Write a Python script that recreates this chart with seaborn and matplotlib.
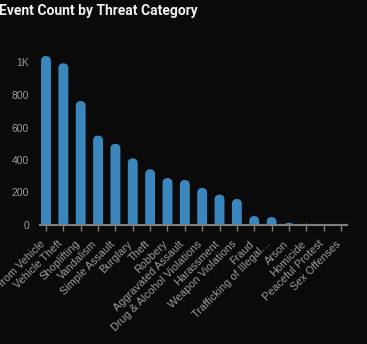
import matplotlib
matplotlib.use("Agg")
import matplotlib.pyplot as plt
import seaborn as sns
import pandas as pd
from matplotlib.patches import FancyBboxPatch
from matplotlib.ticker import FuncFormatter

categories = [
    "Theft from Vehicle", "Vehicle Theft", "Shoplifting", "Vandalism",
    "Simple Assault", "Burglary", "Theft", "Robbery", "Aggravated Assault",
    "Drug & Alcohol Violations", "Harassment", "Weapon Violations", "Fraud",
    "Trafficking of Illegal…", "Arson", "Homicide", "Peaceful Protest",
    "Sex Offenses",
]
counts = [1040, 995, 763, 550, 500, 410, 343, 289, 277, 228, 187, 160,
          55, 49, 14, 8, 6, 2]
yticks = [0, 200, 400, 600, 800, 1000]

BG = "#0a0a0a"
BAR = "#3a86bd"
GREY = "#9c9c9c"
AXIS = "#808080"

sns.set_theme(style="dark")
plt.rcParams["font.family"] = ["Liberation Sans", "DejaVu Sans"]

df = pd.DataFrame({"category": categories, "count": counts})

fig = plt.figure(figsize=(3.67, 3.44), dpi=100, facecolor=BG)
ax = fig.add_axes([40 / 367, 119 / 344, 307 / 367, 178.75 / 344])
ax.set_facecolor(BG)

sns.barplot(data=df, x="category", y="count", color=BAR, width=0.57,
            saturation=1, ax=ax)

ax.set_ylim(0, 1100)
ax.set_xlim(-0.346, 17.346)

# rounded-top bars
fig.canvas.draw()
px_per_x = ax.bbox.width / (ax.get_xlim()[1] - ax.get_xlim()[0])
px_per_y = ax.bbox.height / (ax.get_ylim()[1] - ax.get_ylim()[0])
aspect = px_per_x / px_per_y
for p in list(ax.patches):
    x0, w, h = p.get_x(), p.get_width(), p.get_height()
    r = w / 2
    ry = r * aspect
    bottom = -3 * ry
    fb = FancyBboxPatch((x0, bottom), w, h - bottom,
                        boxstyle=f"round,pad=0,rounding_size={r}",
                        mutation_aspect=aspect, facecolor=BAR,
                        edgecolor="none", linewidth=0, clip_on=True)
    p.remove()
    ax.add_patch(fb)
    fb.set_clip_path(ax.patch)

ax.set_yticks(yticks)
ax.yaxis.set_major_formatter(FuncFormatter(
    lambda v, _: "1K" if v >= 1000 else f"{int(v)}"))
ax.set_xlabel("")
ax.set_ylabel("")
ax.grid(False)
for s in ["top", "right", "left"]:
    ax.spines[s].set_visible(False)
ax.spines["bottom"].set_color(AXIS)
ax.spines["bottom"].set_linewidth(1.5)
ax.spines["bottom"].set_zorder(5)

ax.tick_params(axis="y", length=0, pad=8, labelsize=7.5, labelcolor=GREY)
ax.tick_params(axis="x", length=4.5, width=1, color=AXIS, pad=9.5,
               labelsize=7.8, labelcolor=GREY, bottom=True)
plt.setp(ax.get_xticklabels(), rotation=45, ha="right", va="baseline",
         rotation_mode="anchor")

fig.text(-0.003, 0.968, "Event Count by Threat Category", color="#f0f0f0",
         fontsize=10, fontweight="bold", family=["Roboto", "DejaVu Sans"],
         ha="left", va="center")

fig.savefig("out.png", dpi=100, facecolor=BG)
